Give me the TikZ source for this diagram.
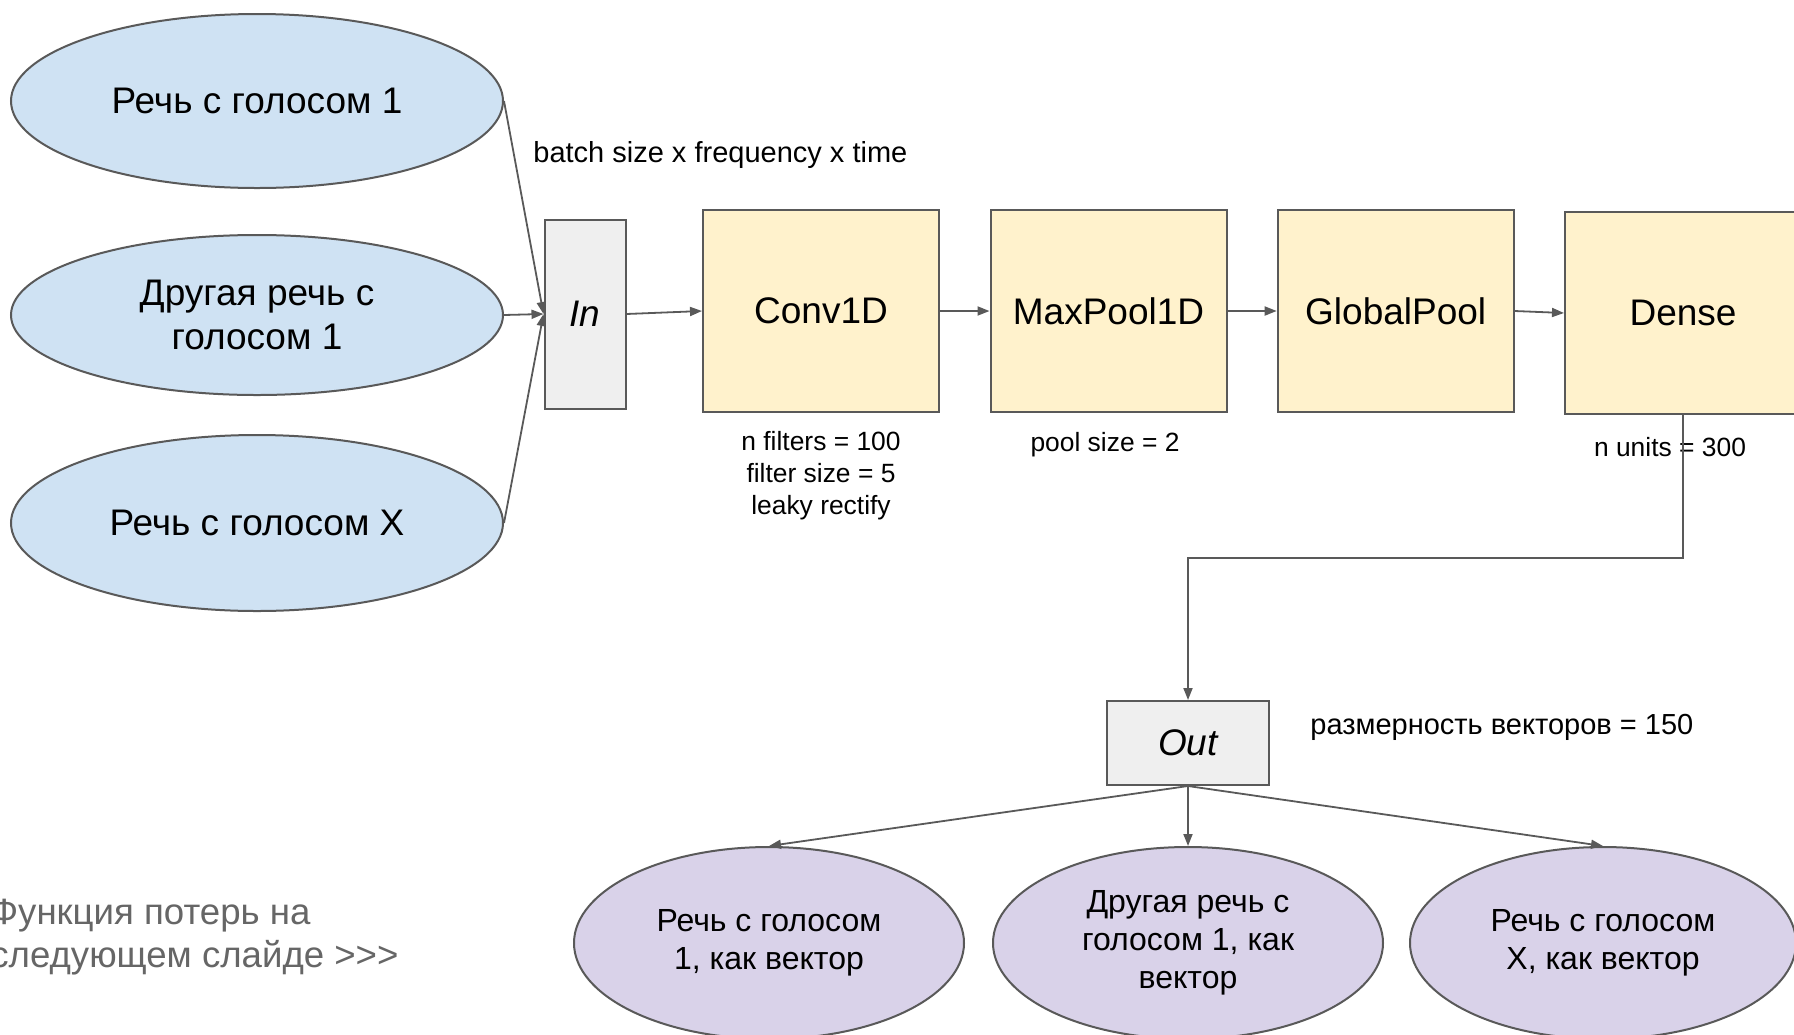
\documentclass[tikz,border=0pt]{standalone}
\usepackage{fontspec}
\setmainfont{Liberation Sans}
\usetikzlibrary{shapes.geometric,arrows.meta}
\definecolor{speechblue}{HTML}{CFE2F3}
\definecolor{layeryellow}{HTML}{FFF2CC}
\definecolor{vectorlilac}{HTML}{D9D2E9}
\definecolor{iobox}{HTML}{EFEFEF}
\definecolor{wire}{HTML}{595959}
\definecolor{note}{HTML}{666666}

\begin{document}
\begin{tikzpicture}[x=0.5pt,y=-0.5pt,
    speech/.style={ellipse,draw=wire,line width=1pt,fill=speechblue,inner sep=0pt,minimum width=246pt,align=center,font=\fontsize{18.5}{22}\selectfont},
    layer/.style={rectangle,draw=wire,line width=1pt,fill=layeryellow,minimum width=118pt,minimum height=101pt,font=\fontsize{18.5}{22}\selectfont},
    io/.style={rectangle,draw=wire,line width=1pt,fill=iobox,font=\fontsize{18.5}{22}\selectfont\itshape},
    vec/.style={ellipse,draw=wire,line width=1pt,fill=vectorlilac,inner sep=0pt,minimum height=96pt,align=center,font=\fontsize{16}{19}\selectfont},
    param/.style={align=center,inner sep=0pt,font=\fontsize{13.2}{16}\selectfont},
    dims/.style={anchor=west,inner sep=0pt,font=\fontsize{14.5}{17}\selectfont},
    arr/.style={draw=wire,line width=0.9pt,-{Triangle[length=6pt,width=4.5pt]}}]
      \useasboundingbox (0,0) rectangle (1794,1034);
      \clip (0,0) rectangle (1794,1034);

      % inputs
      \node[speech,minimum height=87pt] (sp1) at (257,101) {Речь с голосом 1};
      \node[speech,minimum height=80pt] (sp2) at (257,315) {Другая речь с\\голосом 1};
      \node[speech,minimum height=88pt] (spx) at (257,523) {Речь с голосом X};

      % network
      \node[io,minimum width=40.5pt,minimum height=94.5pt] (in) at (585,314) {In};
      \node[layer] (conv) at (821,311) {Conv1D};
      \node[layer] (maxpool) at (1108.5,311) {MaxPool1D};
      \node[layer] (gpool) at (1395.7,311) {GlobalPool};
      \node[layer] (dense) at (1683,313) {Dense};
      \node[io,minimum width=81pt,minimum height=42pt] (out) at (1188,743) {Out};

      % outputs
      \node[vec,minimum width=195pt] (vec1) at (769,943) {Речь с голосом\\1, как вектор};
      \node[vec,minimum width=195pt] (vec2) at (1188,943) {Другая речь с\\голосом 1, как\\вектор};
      \node[vec,minimum width=193pt] (vecx) at (1603,943) {Речь с голосом\\X, как вектор};

      % labels
      \node[dims] (batch) at (533,155) {batch size x frequency x time};
      \node[param] (convpar) at (821,476) {n filters = 100\\filter size = 5\\leaky rectify};
      \node[param] (poolpar) at (1105,445) {pool size = 2};
      \node[param] (densepar) at (1670,447) {n units = 300};
      \node[dims] (vecdim) at (1310,727) {размерность векторов = 150};
      \node[anchor=west,inner sep=0pt,align=left,text=note,font=\fontsize{18.3}{21.5}\selectfont] (lossnote) at (-10,937) {Функция потерь на\\следующем слайде >{}>{}>};

      \coordinate (turn) at (1188,558);

      \draw[arr] (sp1.east) -- (in.west);
      \draw[arr] (sp2.east) -- (in.west);
      \draw[arr] (spx.east) -- (in.west);
      \draw[arr] (in.east) -- (conv.west);
      \draw[arr] (conv.east) -- (maxpool.west);
      \draw[arr] (maxpool.east) -- (gpool.west);
      \draw[arr] (gpool.east) -- (dense.west);
      \draw[arr] (dense.south) |- (turn) -- (out.north);
      \draw[arr] (out.south) -- (vec1.north);
      \draw[arr] (out.south) -- (vec2.north);
      \draw[arr] (out.south) -- (vecx.north);
    \end{tikzpicture}
\end{document}
